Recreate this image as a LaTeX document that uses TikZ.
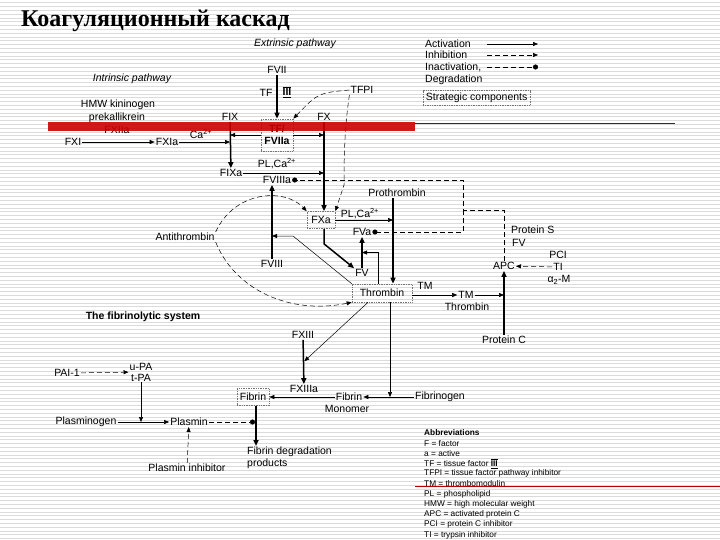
\documentclass[tikz,border=0pt]{standalone}
\usepackage{fontspec}
\setmainfont{Liberation Sans}
\newfontfamily\titlefont{Liberation Serif}
\usetikzlibrary{arrows.meta,calc}
\newcommand{\lblsize}{\fontsize{10.5}{12}\selectfont}
\newcommand{\abbrsize}{\fontsize{8.3}{9.5}\selectfont}
\newcommand{\tfiii}{$\overline{\underline{\textbf{III}}}$}
\tikzset{
  act/.style={
    -{Triangle[length=5pt,width=4pt]},
    line width=0.5pt
  },
  conv/.style={
    -{Triangle[length=6pt,width=5pt]},
    line width=1.5pt
  },
  inhib/.style={
    act,
    dash pattern=on 5pt off 3pt
  },
  inact/.style={
    -{Circle[length=5pt]},
    line width=0.6pt,
    dash pattern=on 5pt off 3pt
  },
  strategic/.style={
    draw=black!55,
    densely dotted,
    line width=0.7pt,
    inner sep=2.5pt
  },
  stripe/.style={black!14, line width=0.7pt},
  slidebar/.style={fill=red!80!black}
}

\begin{document}
\begin{tikzpicture}[x=1pt,y=-1pt,every node/.style={font=\lblsize,inner sep=1pt}]
  \useasboundingbox (0,0) rectangle (720,540);
  \fill[white] (0,0) rectangle (720,540);
  \foreach \k in {1,...,142}
    \draw[stripe] (0,{3.8*\k-1}) -- (720,{3.8*\k-1});

  % title and headings
  \node[anchor=base west,font=\titlefont\bfseries\fontsize{24}{28}\selectfont] (title) at (20,27) {Коагуляционный каскад};
  \node[font=\lblsize\itshape] (extr) at (295,44) {Extrinsic pathway};
  \node[font=\lblsize\itshape] (intr) at (132,79) {Intrinsic pathway};

  % extrinsic pathway
  \node (fvii) at (277,70) {FVII};
  \node (tf) at (266,93) {TF};
  \node (tfsym) at (287,92) {\tfiii};
  \node (tfpi) at (362,90) {TFPI};
  \node (fix) at (230,117) {FIX};
  \node (fx) at (324,117) {FX};
  \node[strategic,align=center,font=\lblsize\bfseries,minimum width=32pt,minimum height=32pt] (tfviia) at (277,135) {TF/\\FVIIa};

  % intrinsic pathway
  \node (hmw) at (118,105) {HMW kininogen};
  \node (prek) at (117,118) {prekallikrein};
  \node (fxiia) at (117,130) {FXIIa};
  \node (fxi) at (73,142) {FXI};
  \node (fxia) at (167,142) {FXIa};
  \node (ca) at (201,134) {Ca\textsuperscript{2+}};
  \node (fixa) at (231,173) {FIXa};
  \node (plca) at (277,164) {PL,Ca\textsuperscript{2+}};
  \node (fviiia) at (277,180) {FVIIIa};
  \node (fviii) at (272,264) {FVIII};
  \node (anti) at (185,237) {Antithrombin};

  % common pathway
  \node[strategic,minimum width=28pt,minimum height=17pt] (fxa) at (321,220) {FXa};
  \node (prothr) at (397,193) {Prothrombin};
  \node (plcb) at (360,214) {PL,Ca\textsuperscript{2+}};
  \node (fva) at (362,232) {FVa};
  \node (fv) at (362,273) {FV};
  \node[strategic,minimum width=60pt,minimum height=18pt] (thr) at (382,293) {Thrombin};
  \node (tm) at (425,286) {TM};
  \node (tmtop) at (466,295) {TM};
  \node (tmbot) at (467,307) {Thrombin};
  \node (apc) at (504,266) {APC};
  \node (protc) at (504,340) {Protein C};
  \node[anchor=west] (prots) at (510,230) {Protein S};
  \node[anchor=west] (fvb) at (511,243) {FV};
  \node (pci) at (558,255) {PCI};
  \node (ti) at (558,267) {TI};
  \node (a2m) at (559,280) {α\textsubscript{2}-M};

  % fibrin
  \node (fxiii) at (303,335) {FXIII};
  \node (fxiiia) at (304,389) {FXIIIa};
  \node[strategic,minimum width=32pt,minimum height=17pt] (fibrin) at (253,397) {Fibrin};
  \node (fibmono) at (349,397) {Fibrin};
  \node (mono) at (347,409) {Monomer};
  \node (fbg) at (440,397) {Fibrinogen};
  \node[anchor=north west,align=left] (fdp) at (246,446) {Fibrin degradation\\products};

  % fibrinolytic system
  \node[font=\lblsize\bfseries] (fibsys) at (143,317) {The fibrinolytic system};
  \node (pai) at (67,373) {PAI-1};
  \node[align=center,font=\fontsize{10.5}{11}\selectfont] (upa) at (141,372) {u-PA\\t-PA};
  \node (plg) at (86,422) {Plasminogen};
  \node (plm) at (189,422) {Plasmin};
  \node (pinh) at (187,468) {Plasmin inhibitor};

  \coordinate (ptline) at ([xshift=-4pt]prothr.south);
  \coordinate (brk) at (463,210);
  \coordinate (kink) at (293,236);
  \coordinate (fvmid) at ($(fv.north)!0.5!(fva.south)$);
  \coordinate (f13mid) at ($(fxiii.south)!0.5!(fxiiia.north)$);
  \coordinate (fdpline) at ([xshift=3pt]fibrin.south);

  % conversions
  \draw[conv] (fvii) -- (tfviia);
  \draw[conv] (fix) -- (fixa);
  \draw[conv] (fx) -- (fx |- fxa.north);
  \draw[conv] (fx |- fxa.south) -- ++(0,15) -- (fv.north west);
  \draw[conv] (fviii) -- (fviii |- fviiia.south);
  \draw[conv] (fv) -- (fva);
  \draw[conv] (ptline) -- (ptline |- thr.north);
  \draw[conv] (protc) -- (apc);
  \draw[conv] (fxiii) -- (fxiiia);
  \draw[conv] (fdpline) -- (fdpline |- fdp.north);

  % activations
  \draw[act] (tfviia.west) -- (tfviia.west -| fix.south);
  \draw[act] (tfviia.east) -- (tfviia.east -| fx.south);
  \draw[act] (fxi) -- (fxia);
  \draw[act] (fxia) -- (fxia -| fix.south);
  \draw[act] (fixa) -- (fixa -| fx.south);
  \draw[act] (fxa) -- (fxa -| ptline);
  \draw[act] (thr.east |- tmtop) -- (tmtop.west);
  \draw[act] (tmtop.east) -- (tmtop.east -| protc.north);
  \draw[act] ([xshift=-4pt]thr.north) |- (fvmid);
  \draw[act] (thr.north west) -- (kink) -- (kink -| fviii.north);
  \draw[act,shorten >=1pt] ([xshift=-14pt]thr.south) -- (f13mid);
  \draw[act] (fibmono) -- (fibrin);
  \draw[act] (fbg) -- (fibmono);
  \draw[act] ([xshift=8pt]thr.south) -- ([xshift=8pt]thr.south |- fbg);
  \draw[act] (plg) -- (plm);
  \draw[act] (upa) -- (upa |- plg);

  % inhibitions
  \draw[inhib] (tfpi.west) .. controls (318,93) .. (tfviia.north east);
  \draw[inhib] (tfpi.south west) .. controls (345,125) and (344,150) .. (344,185) -- (fxa.north east);
  \draw[inhib] (anti.north east) .. controls (235,190) and (285,188) .. (fxa.north west);
  \draw[inhib] (anti.south east) .. controls (235,290) and (290,315) .. (thr.south west);
  \draw[inhib] (ti) -- (apc);
  \draw[inhib] (pai) -- (upa);
  \draw[inhib] (pinh) -- (plm);

  % inactivations
  \draw[inact] (apc.north) |- (brk) |- (fviiia.east);
  \draw[inact] (brk) |- (fva.east);
  \draw[inact,shorten >=1pt] (plm) -- (plm -| fdpline);

  % legend
  \foreach \t/\s/\y in {Activation/act/44, Inhibition/inhib/55, {Inactivation,}/inact/67}{
    \node[anchor=west] (leg\y) at (424,\y) {\t};
    \coordinate (la\y) at (487,\y);
    \coordinate (lb\y) at (538,\y);
    \draw[\s] (la\y) -- (lb\y);
  }
  \node[anchor=west] (legdeg) at (424,80) {Degradation};
  \node[strategic,anchor=west] (legsc) at (423,98) {Strategic components};

  % abbreviations
  \node[anchor=west,font=\abbrsize\bfseries] (abhead) at (423,433) {Abbreviations};
  \foreach \txt [count=\i] in {F = factor, a = active, TF = tissue factor \tfiii,
      TFPI = tissue factor pathway inhibitor, TM = thrombomodulin, PL = phospholipid,
      HMW = high molecular weight, APC = activated protein C,
      PCI = protein C inhibitor, TI = trypsin inhibitor}
    \node[anchor=west,font=\abbrsize] (ab\i) at (423,{433+10.2*\i}) {\txt};

  % slide decoration
  \fill[slidebar,opacity=0.9] (48,122) rectangle (415,131);
  \draw[red!60!black,line width=0.8pt] (415,123) -- (675,123);
  \draw[red!75!black,line width=0.6pt] (415,486) -- (720,486);
\end{tikzpicture}
\end{document}
